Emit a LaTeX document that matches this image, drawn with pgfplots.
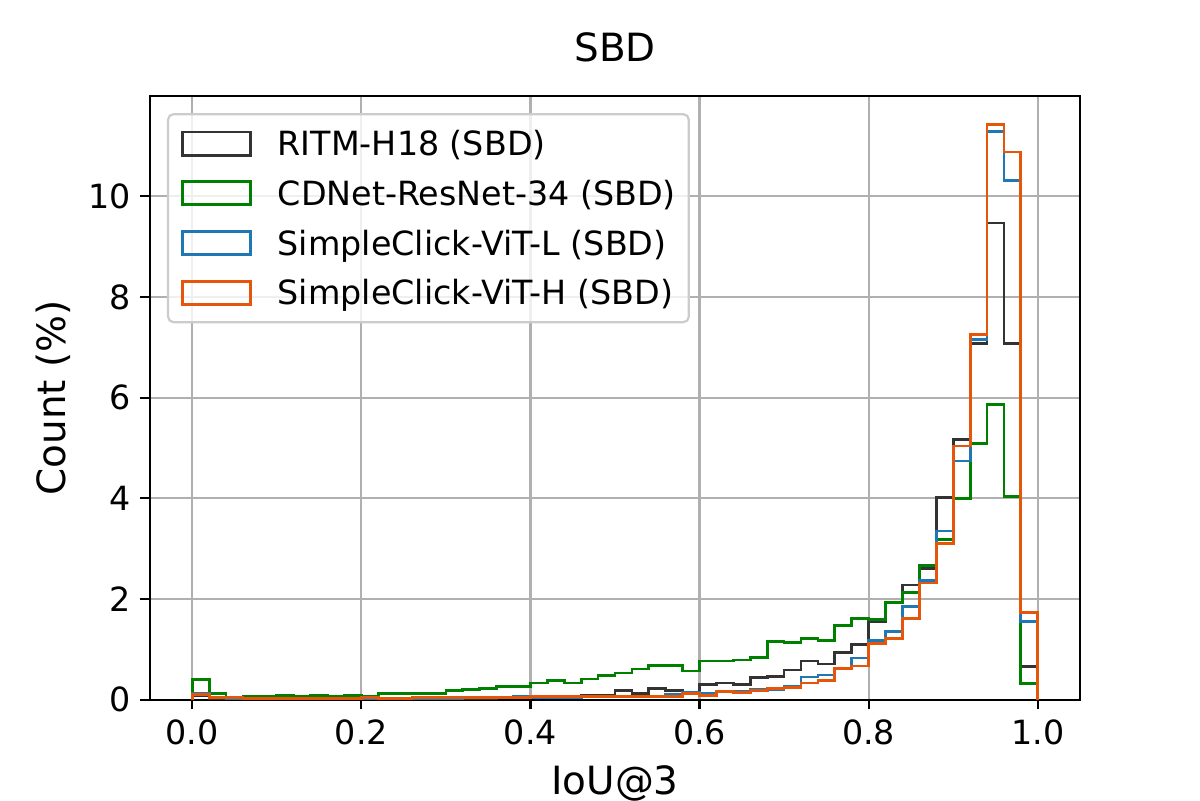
\documentclass[border=0pt]{standalone}
\usepackage{fontspec}
\setmainfont{DejaVu Sans}
\usepackage{pgfplots}
\usepackage{pgfplotstable}
\pgfplotsset{compat=1.18}

\definecolor{cblack}{HTML}{333333}
\definecolor{cgreen}{HTML}{008000}
\definecolor{cblue}{HTML}{1F77B4}
\definecolor{corange}{HTML}{E5560B}
\definecolor{cgrid}{HTML}{B0B0B0}
\definecolor{cleg}{HTML}{CCCCCC}

\pgfplotstableread{
x b g l h
0.00 0 0 0 0
0.00 0.08 0.40 0.12 0.10
0.02 0.03 0.13 0.04 0.04
0.04 0.02 0.04 0.03 0.04
0.06 0.03 0.06 0.02 0.03
0.08 0.03 0.07 0.03 0.03
0.10 0.03 0.09 0.02 0.03
0.12 0.03 0.07 0.03 0.03
0.14 0.03 0.09 0.03 0.03
0.16 0.03 0.06 0.03 0.03
0.18 0.03 0.09 0.03 0.03
0.20 0.03 0.06 0.03 0.04
0.22 0.03 0.13 0.03 0.03
0.24 0.03 0.13 0.03 0.03
0.26 0.03 0.13 0.03 0.04
0.28 0.03 0.13 0.03 0.04
0.30 0.03 0.18 0.03 0.04
0.32 0.03 0.21 0.05 0.04
0.34 0.03 0.23 0.04 0.05
0.36 0.04 0.27 0.04 0.04
0.38 0.04 0.27 0.06 0.04
0.40 0.05 0.33 0.04 0.07
0.42 0.05 0.38 0.05 0.06
0.44 0.07 0.33 0.05 0.06
0.46 0.09 0.41 0.06 0.06
0.48 0.09 0.48 0.06 0.06
0.50 0.19 0.53 0.06 0.06
0.52 0.13 0.61 0.06 0.06
0.54 0.23 0.68 0.07 0.07
0.56 0.18 0.68 0.10 0.07
0.58 0.12 0.57 0.14 0.12
0.60 0.31 0.77 0.12 0.09
0.62 0.33 0.77 0.16 0.17
0.64 0.31 0.79 0.16 0.15
0.66 0.44 0.84 0.21 0.19
0.68 0.46 1.16 0.21 0.23
0.70 0.59 1.14 0.27 0.25
0.72 0.77 1.22 0.45 0.33
0.74 0.71 1.18 0.49 0.38
0.76 0.94 1.48 0.62 0.62
0.78 1.10 1.61 0.83 0.67
0.80 1.55 1.60 1.18 1.12
0.82 1.92 1.93 1.36 1.22
0.84 2.28 2.13 1.85 1.61
0.86 2.61 2.67 2.37 2.32
0.88 4.02 3.18 3.35 3.10
0.90 5.17 3.99 4.74 5.04
0.92 7.08 5.09 7.15 7.25
0.94 9.47 5.87 11.28 11.42
0.96 7.08 4.03 10.31 10.88
0.98 0.66 0.32 1.56 1.74
1.00 0 0 0 0
}\hist

\begin{document}
\begin{tikzpicture}
\begin{axis}[
  name=ax,
  scale only axis,
  width=334.8pt, height=217.3pt,
  xmin=-0.05, xmax=1.05, ymin=0, ymax=11.99,
  xtick={0,0.2,0.4,0.6,0.8,1.0},
  xticklabels={0.0,0.2,0.4,0.6,0.8,1.0},
  ytick={0,2,4,6,8,10},
  /pgf/number format/assume math mode=true,
  tick label style={font=\fontsize{12}{14}\selectfont},
  tick align=outside,
  tick pos=left,
  major tick length=3.5pt,
  every tick/.style={black, line width=0.8pt},
  axis line style={black, line width=0.8pt},
  grid=major,
  major grid style={cgrid, line width=0.8pt},
  title={SBD},
  title style={font=\fontsize{14}{16}\selectfont, at={(axis description cs:0.5,1.0294)}, anchor=base},
  xlabel={IoU@3},
  xlabel style={font=\fontsize{14}{16}\selectfont, at={(axis description cs:0.5,-0.1574)}, anchor=base},
  ylabel={Count (\%)},
  ylabel style={font=\fontsize{14}{16}\selectfont, at={(axis description cs:-0.0911,0.5)}, anchor=base, rotate=0},
  legend cell align=left,
  legend image code/.code={\draw[#1, line width=1pt, sharp corners, line join=miter] (0pt,-4.15pt) rectangle (24.5pt,4.15pt);},
  legend style={
    at={(axis description cs:0,1)}, anchor=north west, xshift=6.1pt, yshift=-6.1pt,
    draw=cleg, line width=0.8pt, rounded corners=2pt, fill=white, fill opacity=0.8, text opacity=1,
    inner sep=4.6pt, row sep=5.9pt, column sep=9.4pt,
    font=\fontsize{12}{14}\selectfont,
    nodes={inner sep=0pt, text height=10.4pt, text depth=1.6pt},
  },
]
\addplot[const plot, cblack, line width=1pt, line join=miter] table[x=x, y=b] {\hist};
\addlegendentry{RITM-H18 (SBD)}
\addplot[const plot, cgreen, line width=1pt, line join=miter] table[x=x, y=g] {\hist};
\addlegendentry{CDNet-ResNet-34 (SBD)}
\addplot[const plot, cblue, line width=1pt, line join=miter] table[x=x, y=l] {\hist};
\addlegendentry{SimpleClick-ViT-L (SBD)}
\addplot[const plot, corange, line width=1pt, line join=miter] table[x=x, y=h] {\hist};
\addlegendentry{SimpleClick-ViT-H (SBD)}
\end{axis}
\pgfresetboundingbox
\path[use as bounding box] ([shift={(-54pt,-36.2pt)}]ax.south west) rectangle ([shift={(43.2pt,34.6pt)}]ax.north east);
\end{tikzpicture}
\end{document}
